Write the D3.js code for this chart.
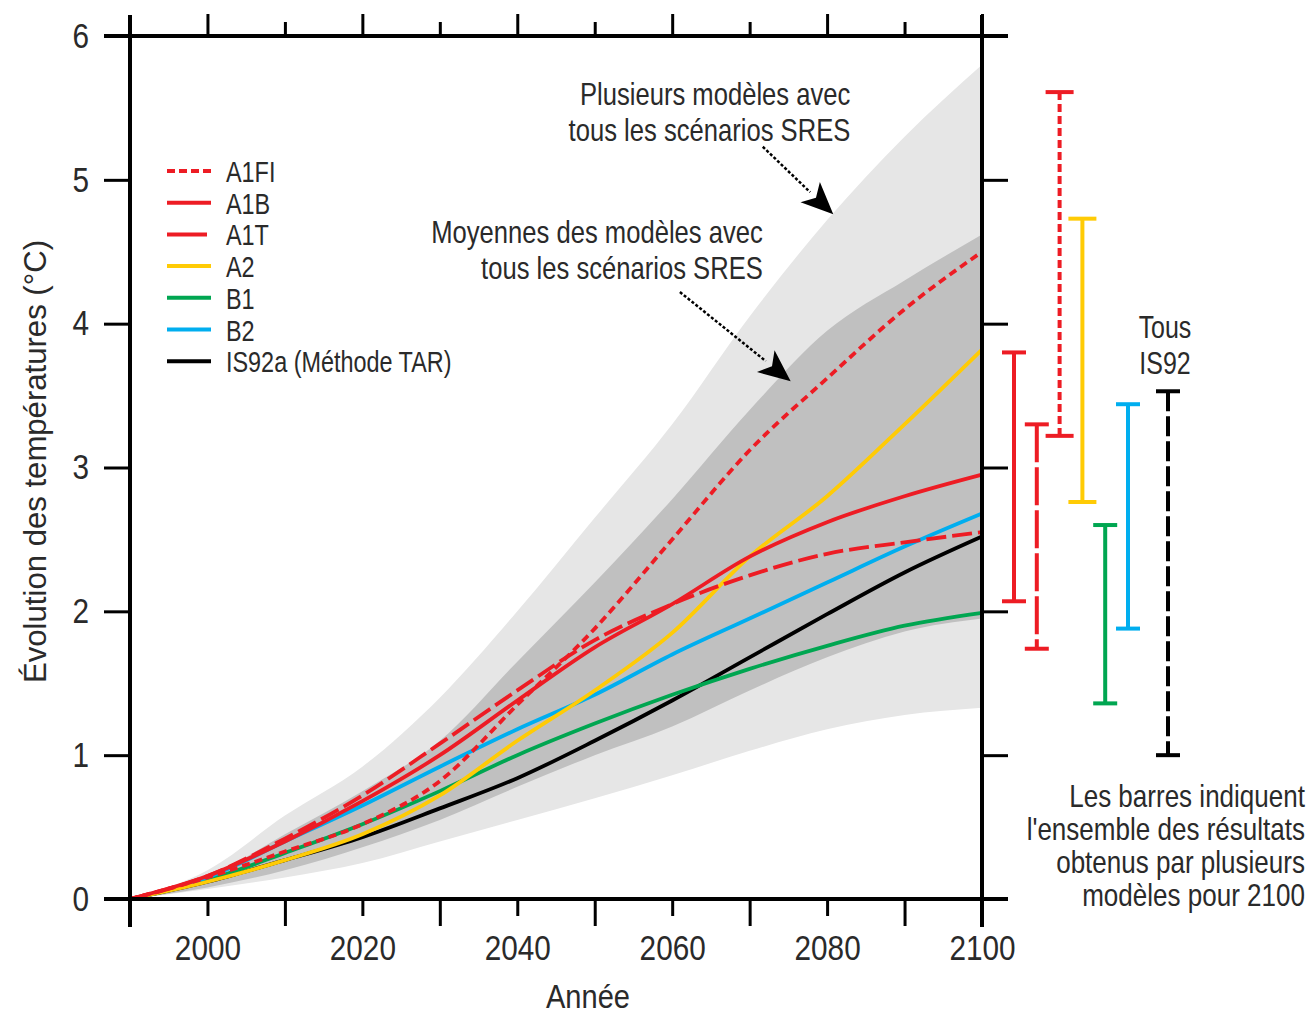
<!DOCTYPE html>
<html>
<head>
<meta charset="utf-8">
<script src="https://cdn.jsdelivr.net/npm/d3@7"></script>
<style>
  body { margin: 0; background: #fff; }
  svg text { font-family: "Liberation Sans", Arial, sans-serif; fill: #2a2a2a; }
</style>
</head>
<body>
<div id="chart"></div>
<script>
// --- data ---
const years = [1990, 2000, 2010, 2020, 2030, 2040, 2050, 2060, 2070, 2080, 2090, 2100];

// envelope "plusieurs modèles" (light) and "moyennes des modèles" (dark)
const allModelsHigh = [0, 0.2, 0.58, 0.92, 1.4, 2.0, 2.65, 3.3, 4.05, 4.72, 5.3, 5.8];
const allModelsLow = [0, 0.07, 0.15, 0.25, 0.4, 0.55, 0.7, 0.86, 1.03, 1.18, 1.28, 1.33];
const meanHigh = [0, 0.15, 0.45, 0.75, 1.1, 1.65, 2.2, 2.78, 3.4, 3.95, 4.3, 4.62];
const meanLow = [0, 0.08, 0.2, 0.36, 0.55, 0.78, 1.0, 1.2, 1.45, 1.68, 1.86, 1.95];

const a1fi = [0, 0.15, 0.33, 0.52, 0.82, 1.35, 1.88, 2.5, 3.12, 3.62, 4.1, 4.5];
const a1b = [0, 0.16, 0.4, 0.68, 1.0, 1.38, 1.75, 2.05, 2.38, 2.62, 2.8, 2.95];
const a1t = [0, 0.16, 0.42, 0.72, 1.08, 1.45, 1.8, 2.05, 2.25, 2.4, 2.48, 2.55];
const a2 = [0, 0.12, 0.27, 0.45, 0.72, 1.1, 1.45, 1.85, 2.38, 2.8, 3.3, 3.82];
const b1 = [0, 0.13, 0.32, 0.52, 0.75, 1.0, 1.22, 1.42, 1.6, 1.76, 1.9, 1.99];
const b2 = [0, 0.15, 0.4, 0.65, 0.92, 1.18, 1.42, 1.7, 1.95, 2.2, 2.45, 2.68];
const is92a = [0, 0.12, 0.27, 0.43, 0.63, 0.84, 1.1, 1.38, 1.68, 1.98, 2.27, 2.52];

// ranges in 2100 (bars on the right)
const barNames = ["A1B", "A1T", "A1FI", "A2", "B1", "B2"];
const barLow = [2.07, 1.74, 3.22, 2.76, 1.36, 1.88];
const barHigh = [3.80, 3.30, 5.61, 4.73, 2.60, 3.44];
const is92Range = [1.0, 3.53];

const yTicks = [0, 1, 2, 3, 4, 5, 6];
const xLabelTicks = [2000, 2020, 2040, 2060, 2080, 2100];
const xMinorTicks = [1990, 2010, 2030, 2050, 2070, 2090];

const series = [
  {name: "IS92a (Méthode TAR)", values: is92a, color: "#000000", dash: null},
  {name: "B1", values: b1, color: "#00a651", dash: null},
  {name: "B2", values: b2, color: "#00aeef", dash: null},
  {name: "A2", values: a2, color: "#ffcb05", dash: null},
  {name: "A1T", values: a1t, color: "#ed1c24", dash: "20,6"},
  {name: "A1B", values: a1b, color: "#ed1c24", dash: null},
  {name: "A1FI", values: a1fi, color: "#ed1c24", dash: "8,5"}
];
const legendOrder = ["A1FI", "A1B", "A1T", "A2", "B1", "B2", "IS92a (Méthode TAR)"];
const noteLines = ["Les barres indiquent", "l'ensemble des résultats", "obtenus par plusieurs", "modèles pour 2100"];

const W = 1313, H = 1014;
const svg = d3.select("#chart").append("svg").attr("width", W).attr("height", H);

// squeeze text horizontally, like the narrow face of the original
function condense(sel, f) {
  sel.each(function() {
    const w = this.getComputedTextLength();
    d3.select(this).attr("textLength", w * f).attr("lengthAdjust", "spacingAndGlyphs");
  });
}

const x = d3.scaleLinear().domain([1990, 2100]).range([130, 982]);
const y = d3.scaleLinear().domain([0, 6]).range([899, 36]);

// shaded envelopes
const band = (hi, lo) => d3.area()
  .x((d, i) => x(years[i]))
  .y0((d, i) => y(lo[i]))
  .y1((d, i) => y(hi[i]))
  .curve(d3.curveMonotoneX)(years);

svg.append("path").attr("d", band(allModelsHigh, allModelsLow)).attr("fill", "#e6e6e6");
svg.append("path").attr("d", band(meanHigh, meanLow)).attr("fill", "#c0c0c0");

// scenario lines
const line = d3.line()
  .x((d, i) => x(years[i]))
  .y(d => y(d))
  .curve(d3.curveMonotoneX);

svg.append("g").selectAll("path")
  .data(series)
  .join("path")
  .attr("d", d => line(d.values))
  .attr("fill", "none")
  .attr("stroke", d => d.color)
  .attr("stroke-width", 3.8)
  .attr("stroke-dasharray", d => d.dash);

// axes
const styleAxis = g => {
  g.select(".domain").remove();
  g.selectAll(".tick line").attr("stroke", "#000").attr("stroke-width", 3);
  g.selectAll("text").attr("font-size", 35).attr("fill", "#1a1a1a").call(condense, 0.85);
};

svg.append("g").attr("transform", `translate(0,${y(6)})`)
  .call(d3.axisTop(x).tickValues(xLabelTicks).tickSize(22).tickFormat(""))
  .call(styleAxis);
svg.append("g").attr("transform", `translate(0,${y(6)})`)
  .call(d3.axisTop(x).tickValues(xMinorTicks).tickSize(14).tickFormat(""))
  .call(styleAxis);
svg.append("g").attr("transform", `translate(0,${y(0)})`)
  .call(d3.axisBottom(x).tickValues(xLabelTicks).tickSize(17).tickPadding(19).tickFormat(d3.format("d")))
  .call(styleAxis);
svg.append("g").attr("transform", `translate(0,${y(0)})`)
  .call(d3.axisBottom(x).tickValues(xMinorTicks).tickSize(27).tickFormat(""))
  .call(styleAxis);
svg.append("g").attr("transform", `translate(${x(1990)},0)`)
  .call(d3.axisLeft(y).tickValues(yTicks).tickSize(26).tickPadding(15).tickFormat(d3.format("d")))
  .call(styleAxis);
svg.append("g").attr("transform", `translate(${x(2100)},0)`)
  .call(d3.axisRight(y).tickValues(yTicks).tickSize(26).tickFormat(""))
  .call(styleAxis);

// frame
const frame = svg.append("g").attr("stroke", "#000").attr("stroke-width", 4);
frame.append("line").attr("x1", 104).attr("x2", 1008).attr("y1", y(6)).attr("y2", y(6));
frame.append("line").attr("x1", 104).attr("x2", 1008).attr("y1", y(0)).attr("y2", y(0));
frame.append("line").attr("x1", x(1990)).attr("x2", x(1990)).attr("y1", 15).attr("y2", 927);
frame.append("line").attr("x1", x(2100)).attr("x2", x(2100)).attr("y1", 15).attr("y2", 927);

// axis titles
svg.append("text").attr("x", 588).attr("y", 1008).attr("text-anchor", "middle")
  .attr("font-size", 33).text("Année").call(condense, 0.88);
svg.append("text").attr("transform", `translate(46,${y(3) - 6}) rotate(-90)`)
  .attr("text-anchor", "middle").attr("font-size", 32)
  .attr("textLength", 443).attr("lengthAdjust", "spacingAndGlyphs")
  .text("Évolution des températures (°C)");

// legend
const legend = svg.append("g").attr("transform", "translate(167,171)");
const legendRows = legend.selectAll("g")
  .data(legendOrder.map(n => series.find(s => s.name === n)))
  .join("g")
  .attr("transform", (d, i) => `translate(0,${i * 31.7})`);
legendRows.append("line")
  .attr("x1", 0).attr("x2", d => d.name === "A1T" ? 40 : 44)
  .attr("stroke", d => d.color).attr("stroke-width", 4)
  .attr("stroke-dasharray", d => d.name === "A1FI" ? "8,4" : null);
legendRows.append("text").attr("x", 59).attr("y", 11).attr("font-size", 30)
  .text(d => d.name).call(condense, 0.78);

// annotations with arrows
const annot = [
  {lines: ["Plusieurs modèles avec", "tous les scénarios SRES"], year: 2083, val: 5.52,
   from: [2071.7, 5.23], to: [2080.8, 4.76]},
  {lines: ["Moyennes des modèles avec", "tous les scénarios SRES"], year: 2071.7, val: 4.56,
   from: [2061.0, 4.22], to: [2075.3, 3.60]}
];
annot.forEach(a => {
  a.lines.forEach((l, i) => svg.append("text").attr("text-anchor", "end").attr("font-size", 32)
    .attr("x", x(a.year)).attr("y", y(a.val) + i * 36).text(l).call(condense, 0.8));
  const x1 = x(a.from[0]), y1 = y(a.from[1]), x2 = x(a.to[0]), y2 = y(a.to[1]);
  const len = Math.hypot(x2 - x1, y2 - y1), ux = (x2 - x1) / len, uy = (y2 - y1) / len;
  const hl = 32, hw = 14;
  const hx = x2 - ux * hl, hy = y2 - uy * hl;
  svg.append("line").attr("x1", x1).attr("y1", y1).attr("x2", hx).attr("y2", hy)
    .attr("stroke", "#000").attr("stroke-width", 2.5).attr("stroke-dasharray", "3,2");
  svg.append("path")
    .attr("d", `M${x2},${y2}L${hx - uy * hw},${hy + ux * hw}L${hx + ux * 8},${hy + uy * 8}L${hx + uy * hw},${hy - ux * hw}Z`)
    .attr("fill", "#000");
});

// range bars for 2100
const bx = d3.scalePoint().domain(barNames).range([1014, 1128]);
const barColor = {A1B: "#ed1c24", A1T: "#ed1c24", A1FI: "#ed1c24", A2: "#ffcb05", B1: "#00a651", B2: "#00aeef"};
const barDash = {A1T: "38,5", A1FI: "8,4"};
const barCap = {A1FI: 28, A2: 28};
const bars = svg.append("g");
barNames.forEach((n, i) => {
  const cx = bx(n), cw = (barCap[n] || 24) / 2;
  const g = bars.append("g").attr("stroke", barColor[n]).attr("stroke-width", 4);
  g.append("line").attr("x1", cx).attr("x2", cx).attr("y1", y(barHigh[i])).attr("y2", y(barLow[i]))
    .attr("stroke-dasharray", barDash[n] || null);
  g.append("line").attr("x1", cx - cw).attr("x2", cx + cw).attr("y1", y(barHigh[i])).attr("y2", y(barHigh[i]));
  g.append("line").attr("x1", cx - cw).attr("x2", cx + cw).attr("y1", y(barLow[i])).attr("y2", y(barLow[i]));
});
const isx = 1168;
const gi = bars.append("g").attr("stroke", "#000").attr("stroke-width", 4);
gi.append("line").attr("x1", isx).attr("x2", isx).attr("y1", y(is92Range[1])).attr("y2", y(is92Range[0]))
  .attr("stroke-dasharray", "20,5");
is92Range.forEach(v => gi.append("line").attr("x1", isx - 12).attr("x2", isx + 12).attr("y1", y(v)).attr("y2", y(v)));

svg.selectAll("text.tous").data(["Tous", "IS92"]).join("text")
  .attr("class", "tous").attr("text-anchor", "middle").attr("font-size", 32)
  .attr("x", 1165).attr("y", (d, i) => 338 + i * 36).text(d => d)
  .call(condense, 0.78);

// note: squeezed with a group transform so the box stays inside the page
svg.append("g").attr("transform", "translate(1305,0) scale(0.84,1)")
  .selectAll("text").data(noteLines).join("text")
  .attr("text-anchor", "end").attr("font-size", 31)
  .attr("x", 0).attr("y", (d, i) => 807 + i * 33).text(d => d);
</script>
</body>
</html>
